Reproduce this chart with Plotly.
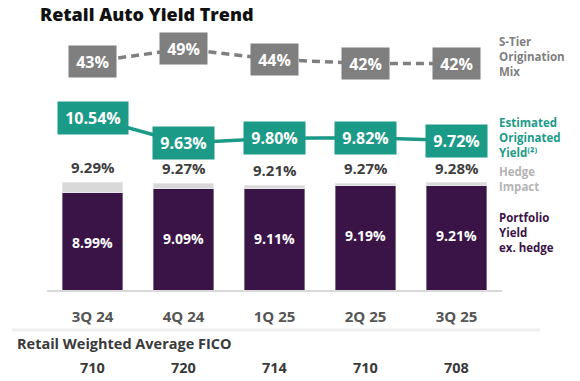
import plotly.graph_objects as go

# ---- data ----
quarters = ["3Q 24", "4Q 24", "1Q 25", "2Q 25", "3Q 25"]
portfolio_ex_hedge = [8.99, 9.09, 9.11, 9.19, 9.21]
portfolio_total = [9.29, 9.27, 9.21, 9.27, 9.28]
est_orig_yield = [10.54, 9.63, 9.80, 9.82, 9.72]
s_tier_mix = [43, 49, 44, 42, 42]
fico = [710, 720, 714, 710, 708]

hedge_impact = [round(t - p, 2) for t, p in zip(portfolio_total, portfolio_ex_hedge)]

FONT = "Open Sans"
PURPLE = "#3a1446"
HEDGE = "#d9d9d9"
TEAL = "#1c9a88"
GREY = "#7f7f7f"

W, H = 580, 381
ML, MR, MT, MB = 47, 78, 30, 91
PW = W - ML - MR
PH = H - MT - MB

def py(px):
    return (H - MB - px) / PH

def pxx(px):
    return (px - ML) / PW

fig = go.Figure()

fig.add_trace(go.Bar(
    x=quarters, y=portfolio_ex_hedge,
    marker=dict(color=PURPLE, line=dict(color="#7d6d86", width=1)),
    width=0.67, hoverinfo="skip", name="Portfolio Yield ex. hedge",
))
fig.add_trace(go.Bar(
    x=quarters, y=hedge_impact,
    marker=dict(color=HEDGE, line=dict(color="#e6e6e6", width=1)),
    width=0.67, hoverinfo="skip", name="Hedge Impact",
))

fig.add_trace(go.Scatter(
    x=quarters, y=est_orig_yield, yaxis="y2", mode="lines",
    line=dict(color=TEAL, width=3.5), hoverinfo="skip",
))
fig.add_trace(go.Scatter(
    x=quarters, y=s_tier_mix, yaxis="y3", mode="lines",
    line=dict(color=GREY, width=3.5, dash="8px,5px"), hoverinfo="skip",
))

ann = []
# labels inside the purple bars
for q, v in zip(quarters, portfolio_ex_hedge):
    ann.append(dict(x=q, y=v, xref="x", yref="y", yanchor="middle", yshift=-50,
                    text=f"{v:.2f}%", showarrow=False,
                    font=dict(family=FONT, size=14, color="white", weight=700)))
# total labels above bars
for q, t in zip(quarters, portfolio_total):
    ann.append(dict(x=q, y=t, xref="x", yref="y", yanchor="bottom", yshift=3,
                    text=f"{t:.2f}%", showarrow=False,
                    font=dict(family=FONT, size=15, color="#3f3f3f", weight=700)))
# teal boxes
for q, v in zip(quarters, est_orig_yield):
    s = f"{v:.2f}%"
    ann.append(dict(x=q, y=v, xref="x", yref="y2", yanchor="middle", text=s, showarrow=False,
                    bgcolor=TEAL, width=68 if len(s) > 5 else 59, height=30,
                    font=dict(family=FONT, size=16, color="white", weight=700)))
# grey boxes
for q, v in zip(quarters, s_tier_mix):
    ann.append(dict(x=q, y=v, xref="x", yref="y3", yanchor="middle", text=f"{v}%", showarrow=False,
                    bgcolor=GREY, width=45, height=29,
                    font=dict(family=FONT, size=16, color="white", weight=700)))
# FICO values
for q, v in zip(quarters, fico):
    ann.append(dict(x=q, y=py(367), xref="x", yref="paper", yanchor="middle",
                    text=str(v), showarrow=False,
                    font=dict(family=FONT, size=14.5, color="#3a3a3a", weight=700)))

ann.append(dict(x=pxx(15), y=py(343), xref="paper", yref="paper", xanchor="left",
                yanchor="middle", text="Retail Weighted Average FICO", showarrow=False,
                font=dict(family=FONT, size=14.5, color="#3a3a3a", weight=700)))
ann.append(dict(x=pxx(38), y=py(14), xref="paper", yref="paper", xanchor="left",
                yanchor="middle", text="Retail Auto Yield Trend", showarrow=False,
                font=dict(family=FONT, size=18, color="#111111", weight=800)))

legend_labels = [
    ("S-Tier<br>Origination<br>Mix", 57, GREY),
    ("Estimated<br>Originated<br>Yield⁽²⁾", 137, TEAL),
    ("Hedge<br>Impact", 178.5, "#b4b4b4"),
    ("Portfolio<br>Yield<br>ex. hedge", 232, PURPLE),
]
for txt, yc, col in legend_labels:
    ann.append(dict(x=pxx(497), y=py(yc), xref="paper", yref="paper", xanchor="left",
                    yanchor="middle", align="left", text=txt, showarrow=False,
                    font=dict(family=FONT, size=11.5, color=col, weight=700)))

fig.update_layout(
    width=W, height=H, margin=dict(l=ML, r=MR, t=MT, b=MB),
    barmode="stack", showlegend=False,
    plot_bgcolor="white", paper_bgcolor="white",
    annotations=ann,
    shapes=[dict(type="line", xref="paper", yref="paper",
                 x0=pxx(12), x1=pxx(540), y0=py(330), y1=py(330),
                 line=dict(color="#eeeeee", width=3))],
    xaxis=dict(range=[-0.5, 4.5], showgrid=False, zeroline=False,
               showline=True, linecolor="#d9d9d9", linewidth=2,
               ticks="", ticklabelstandoff=12,
               tickfont=dict(family=FONT, size=15, color="#555555", weight=700)),
    yaxis=dict(range=[5.93, 14.055], visible=False),
    yaxis2=dict(range=[4.2855, 13.74], overlaying="y", visible=False),
    yaxis3=dict(range=[-65.8, 58.0], overlaying="y", visible=False),
)

fig.write_html("out.html", config={"displayModeBar": False},
               post_script="document.body.style.margin='0';")
